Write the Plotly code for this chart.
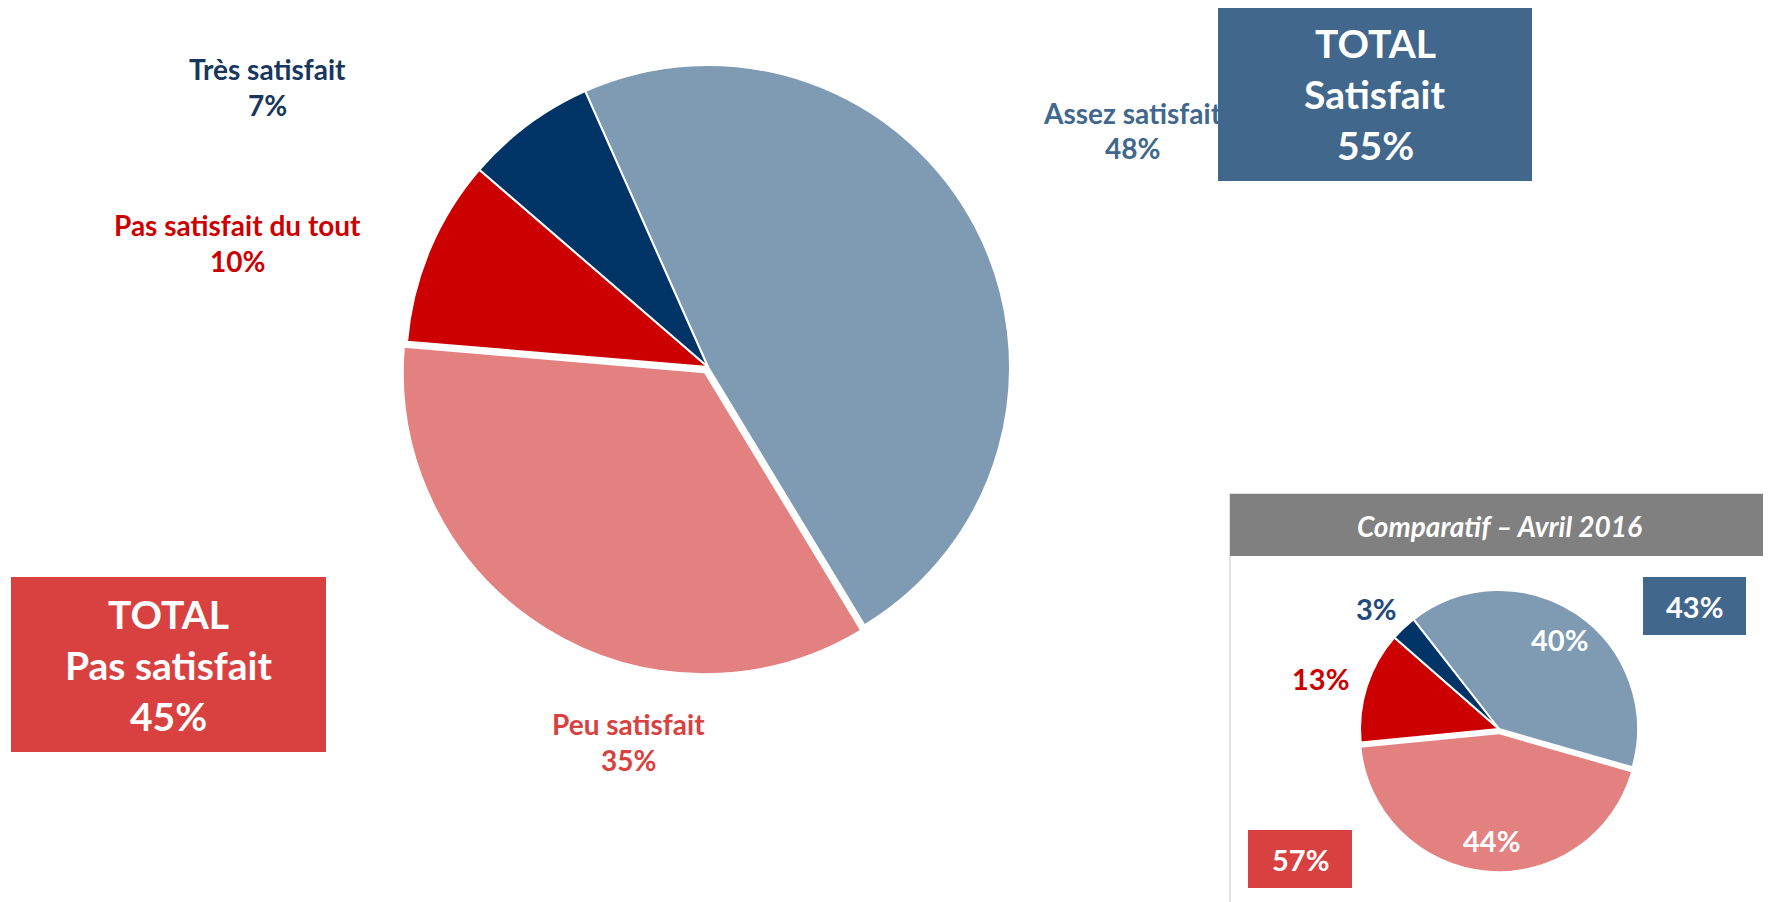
import plotly.graph_objects as go

W, H = 1771, 902
OFF = 8  # marge par défaut du <body> dans la page
FW, FH = W - OFF, H - OFF

# données
categories = ['Assez satisfait', 'Peu satisfait', 'Pas satisfait du tout', 'Très satisfait']
values_2017 = [48, 35, 10, 7]
values_2016 = [40, 44, 13, 3]
colors = ['#7F9AB3', '#E38080', '#CC0000', '#003366']
label_colors = ['#41678D', '#D94141', '#CC0000', '#17375E']
blue_box = '#41678D'
red_box = '#D94141'

total_sat = values_2017[0] + values_2017[3]
total_pas = values_2017[1] + values_2017[2]
total_sat_16 = values_2016[0] + values_2016[3]
total_pas_16 = values_2016[1] + values_2016[2]

FONT = 'Lato'


def px(x, y):
    return (x - OFF) / FW, 1 - (y - OFF) / FH


def dom(cx, cy, half):
    x0, y1 = px(cx - half, cy - half)
    x1, y0 = px(cx + half, cy + half)
    return dict(x=[x0, x1], y=[y0, y1])


fig = go.Figure()

# grand camembert
fig.add_trace(go.Pie(
    labels=categories, values=values_2017, sort=False, direction='clockwise',
    rotation=336, pull=[0, 0.02, 0, 0],
    marker=dict(colors=colors, line=dict(color='white', width=2)),
    textinfo='none', hoverinfo='label+percent', showlegend=False,
    domain=dom(708, 367, 302 * 1.02),
))

# petit camembert (avril 2016)
fig.add_trace(go.Pie(
    labels=categories, values=values_2016, sort=False, direction='clockwise',
    rotation=322, pull=[0, 0.03, 0, 0],
    marker=dict(colors=colors, line=dict(color='white', width=2)),
    textinfo='none', hoverinfo='label+percent', showlegend=False,
    domain=dom(1499, 729, 139 * 1.03),
))

shapes = []


def rect(x0, y0, x1, y1, fill, line=None):
    a0, b0 = px(x0, y0)
    a1, b1 = px(x1, y1)
    shapes.append(dict(type='rect', xref='paper', yref='paper', x0=a0, y0=b1, x1=a1, y1=b0,
                       fillcolor=fill, line=line or dict(width=0), layer='below'))


# cadre comparatif
rect(1230, 494, 1767, 910, 'white', dict(color='#D9D9D9', width=1.5))
rect(1230, 494, 1768, 556, '#808080')
# boîtes TOTAL
rect(1218, 7, 1532, 181, blue_box)
rect(11, 577, 326, 752, red_box)
rect(1643, 577, 1746, 635, blue_box)
rect(1248, 830, 1352, 888, red_box)

annotations = []


def txt(x, y, s, size, color, italic=False):
    a, b = px(x, y)
    if italic:
        s = '<i>' + s + '</i>'
    annotations.append(dict(x=a, y=b, xref='paper', yref='paper', text='<b>' + s + '</b>',
                            showarrow=False, xanchor='center', yanchor='middle',
                            font=dict(family=FONT, size=size, color=color)))


# étiquettes du grand camembert
label_pos = [(1132, 113, 148), (628, 724, 760), (237, 225, 261), (267, 69, 105)]
for cat, v, c, (x, y1, y2) in zip(categories, values_2017, label_colors, label_pos):
    txt(x, y1, cat, 28, c)
    txt(x, y2, f'{v}%', 28, c)

# TOTAL Satisfait
for y, s in zip([43, 94, 145], ['TOTAL', 'Satisfait', f'{total_sat}%']):
    txt(1375, y, s, 39, 'white')
# TOTAL Pas satisfait
for y, s in zip([614, 665, 716], ['TOTAL', 'Pas satisfait', f'{total_pas}%']):
    txt(168, y, s, 39, 'white')

# comparatif
txt(1499, 526, 'Comparatif – Avril 2016', 28, 'white', italic=True)
small_pos = [(1559, 639, 'white'), (1491, 840, 'white'), (1320, 678, '#CC0000'), (1376, 608, '#1F497D')]
for v, (x, y, c) in zip(values_2016, small_pos):
    txt(x, y, f'{v}%', 29, c)
txt(1694, 606, f'{total_sat_16}%', 29, 'white')
txt(1300, 859, f'{total_pas_16}%', 29, 'white')

fig.update_layout(
    width=FW, height=FH,
    margin=dict(l=0, r=0, t=0, b=0),
    paper_bgcolor='white', plot_bgcolor='white',
    shapes=shapes, annotations=annotations,
    font=dict(family=FONT),
)

fig.write_html('out.html')
